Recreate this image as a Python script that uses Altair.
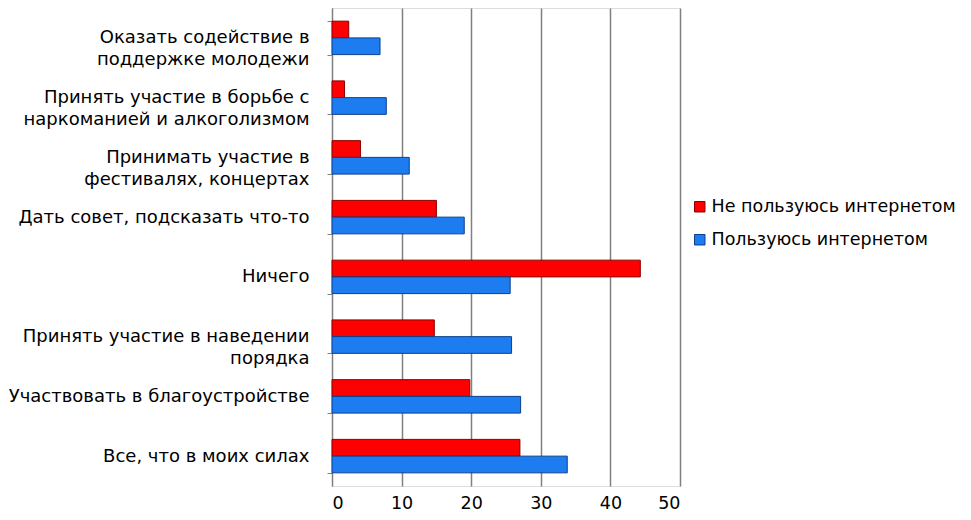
import altair as alt
import pandas as pd

categories = [
    "Оказать содействие в|поддержке молодежи",
    "Принять участие в борьбе с|наркоманией и алкоголизмом",
    "Принимать участие в|фестивалях, концертах",
    "Дать совет, подсказать что-то",
    "Ничего",
    "Принять участие в наведении|порядка",
    "Участвовать в благоустройстве",
    "Все, что в моих силах",
]
series = ["Не пользуюсь интернетом", "Пользуюсь интернетом"]
nonusers = [2.4, 1.8, 4.1, 15.0, 44.3, 14.7, 19.8, 27.0]
users = [6.9, 7.8, 11.1, 19.0, 25.6, 25.8, 27.1, 33.8]
x_ticks = [0, 10, 20, 30, 40, 50]

FONT = "DejaVu Sans"

rows = []
for c, a, b in zip(categories, nonusers, users):
    rows.append({"cat": c, "series": series[0], "value": a})
    rows.append({"cat": c, "series": series[1], "value": b})
df = pd.DataFrame(rows)

chart = alt.Chart(df).mark_bar(strokeWidth=1).encode(
    y=alt.Y("cat:N", sort=categories,
            scale=alt.Scale(paddingInner=0.44, paddingOuter=0.22),
            axis=alt.Axis(title=None,
                          labelExpr="isValid(datum.value) ? split(datum.value, '|') : ''",
                          labelFontSize=18, labelLineHeight=22, labelColor="#000",
                          labelPadding=18, tickSize=5, tickBand="extent", labelLimit=400,
                          domainColor="#808080", tickColor="#808080", labelFont=FONT)),
    yOffset=alt.YOffset("series:N", sort=series, scale=alt.Scale(paddingInner=0, paddingOuter=0)),
    x=alt.X("value:Q", scale=alt.Scale(domain=[0, 50], nice=False),
            axis=alt.Axis(title=None, values=x_ticks, domain=False, ticks=False,
                          grid=True, gridColor="#808080", gridWidth=1.5,
                          labelFontSize=17.5, labelPadding=8, labelColor="#000",
                          labelFont=FONT)),
    color=alt.Color("series:N", sort=series,
                    scale=alt.Scale(domain=series, range=["#FF0000", "#1C7CF0"]),
                    legend=alt.Legend(title=None, orient="none", legendX=359, legendY=190,
                                      symbolType="square", symbolSize=110,
                                      labelFontSize=17.5, labelFont=FONT, labelColor="#000",
                                      rowPadding=14, symbolStrokeWidth=1, labelLimit=400,
                                      labelOffset=3)),
    stroke=alt.Stroke("series:N", sort=series,
                      scale=alt.Scale(domain=series, range=["#8B0000", "#0B3F8F"]),
                      legend=None),
).properties(
    width=348, height=478,
    autosize=alt.AutoSizeParams(type="none"),
    padding={"left": 324, "top": 0, "right": 283, "bottom": 25},
).configure_view(stroke=None).configure(font=FONT)

chart.save("out.html", embed_options={"renderer": "svg", "actions": False})
